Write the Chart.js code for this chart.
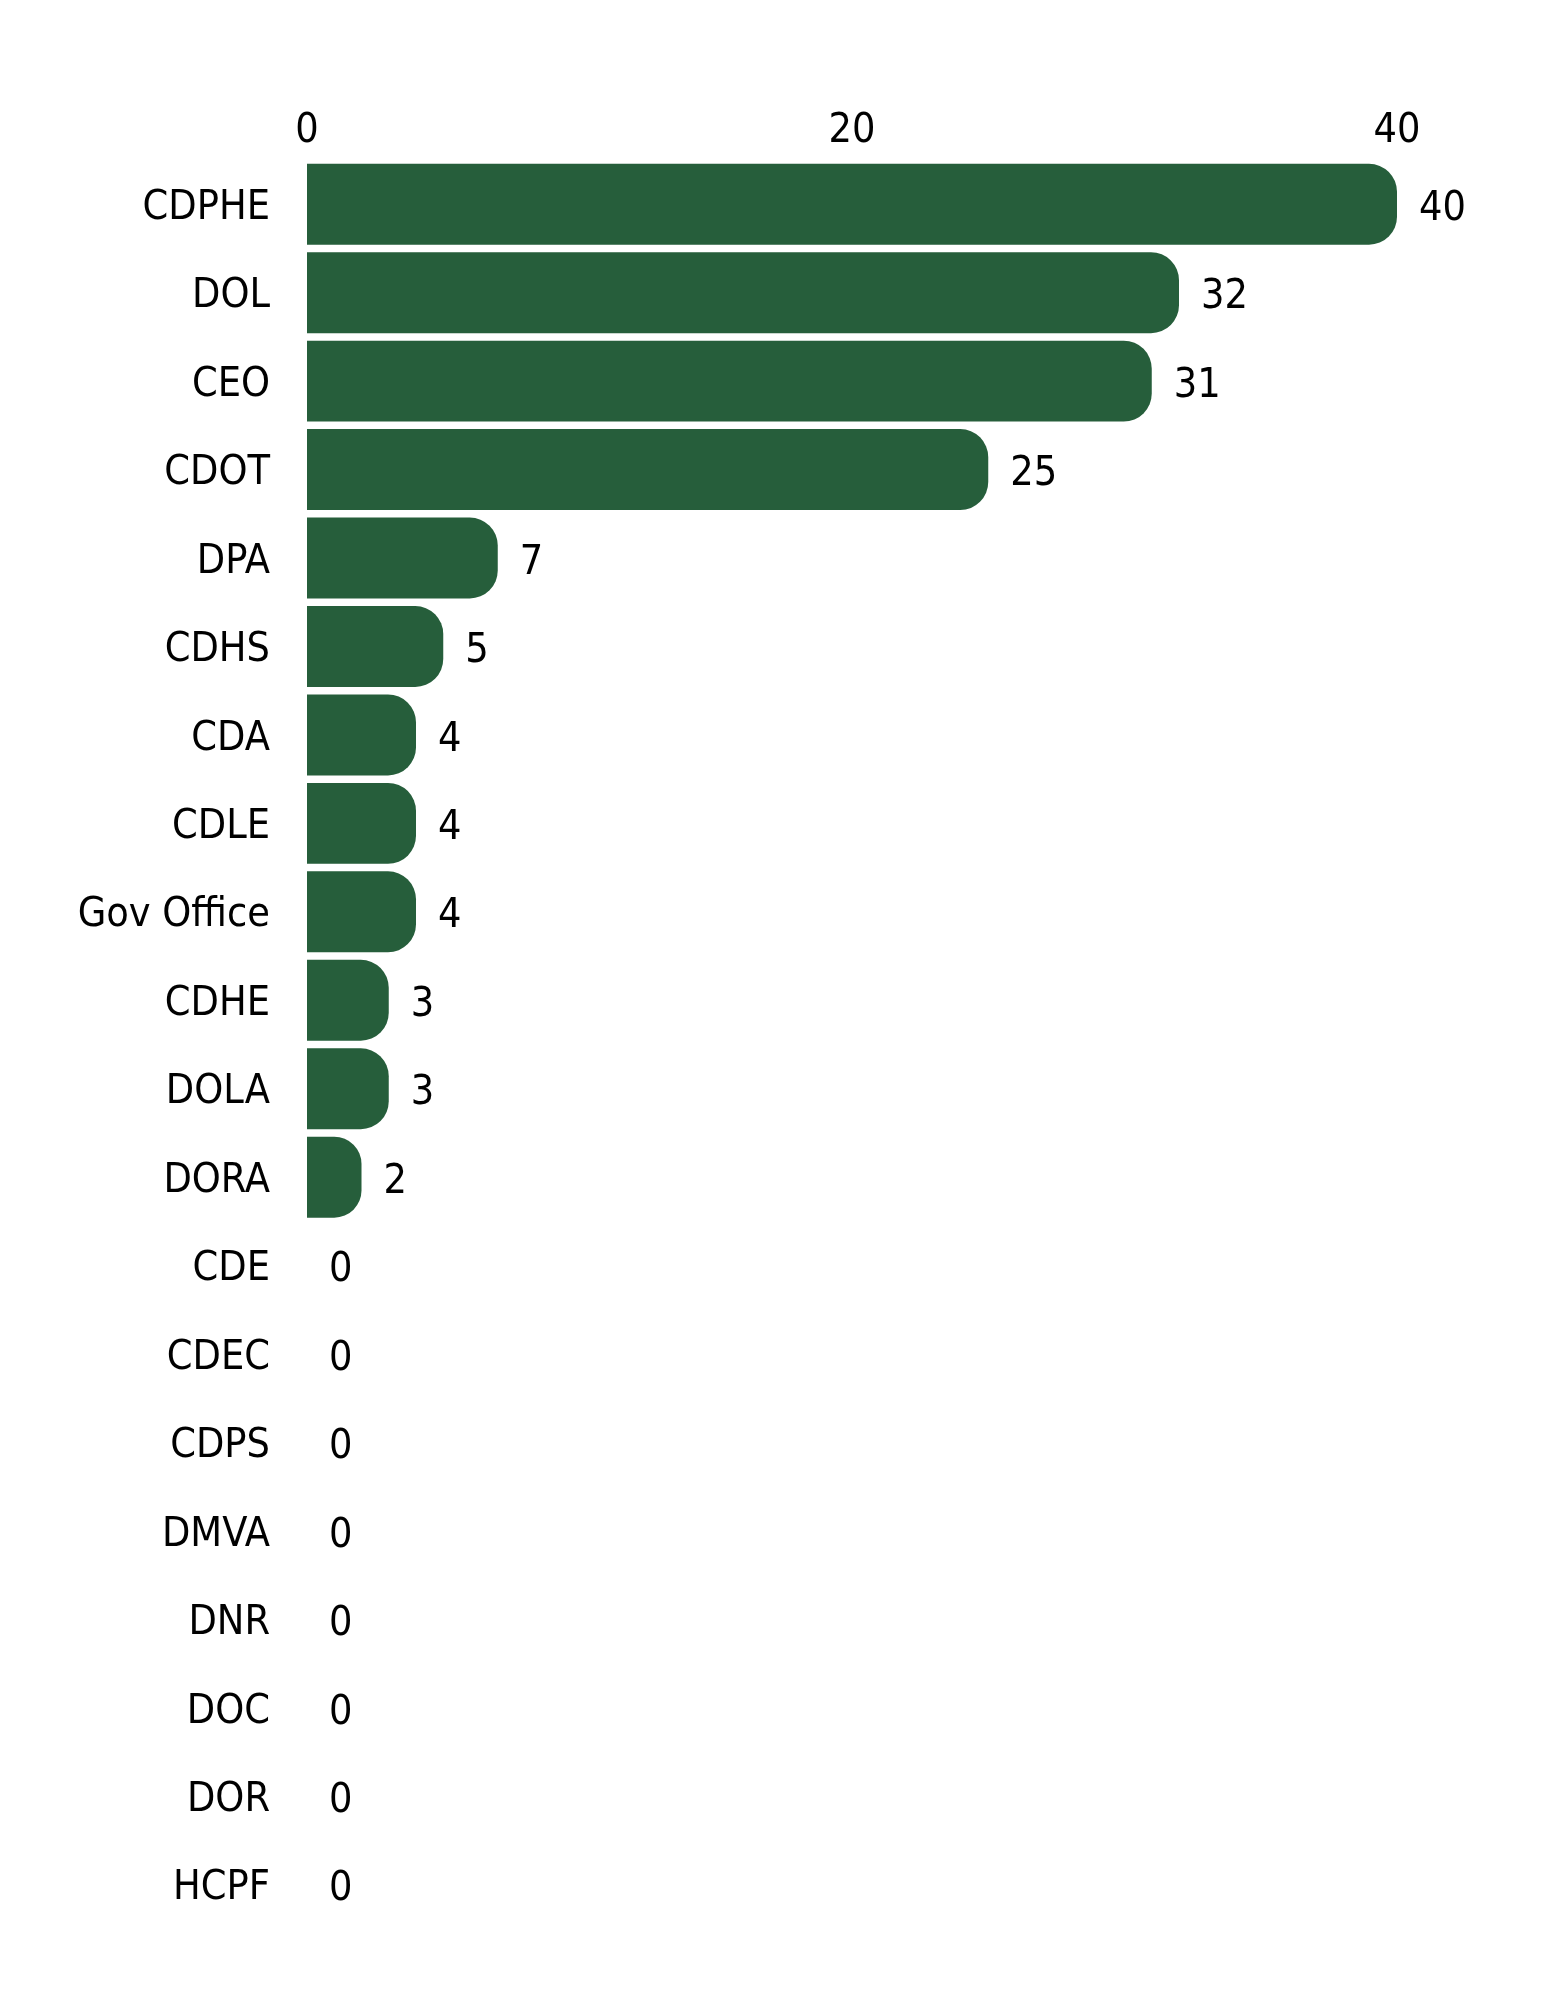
<!DOCTYPE html>
<html>
<head>
<meta charset="utf-8">
<script src="https://cdn.jsdelivr.net/npm/chart.js@4.4.1/dist/chart.umd.min.js"></script>
<style>
  html, body { margin: 0; padding: 0; background: #fff; }
  #wrap { width: 1545px; height: 2000px; }
</style>
</head>
<body>
<div id="wrap"><canvas id="agencyChart" width="1545" height="2000"></canvas></div>
<script>
const agencies = ['CDPHE', 'DOL', 'CEO', 'CDOT', 'DPA', 'CDHS', 'CDA', 'CDLE', 'Gov Office', 'CDHE',
  'DOLA', 'DORA', 'CDE', 'CDEC', 'CDPS', 'DMVA', 'DNR', 'DOC', 'DOR', 'HCPF'];
const counts = [40, 32, 31, 25, 7, 5, 4, 4, 4, 3, 3, 2, 0, 0, 0, 0, 0, 0, 0, 0];
const xTicks = [0, 20, 40];

const FONT = "'DejaVu Sans Condensed', 'DejaVu Sans', sans-serif";
const FONT_SIZE = 41;
const barGreen = '#265e3b';

// value text just past the end of each bar
const valueLabels = {
  id: 'valueLabels',
  afterDatasetsDraw(chart) {
    const c = chart.ctx;
    const meta = chart.getDatasetMeta(0);
    c.save();
    c.font = FONT_SIZE + 'px ' + FONT;
    c.fillStyle = '#000';
    c.textAlign = 'left';
    c.textBaseline = 'middle';
    meta.data.forEach((bar, i) => {
      c.fillText(String(counts[i]), bar.x + 22, bar.y + 5);
    });
    c.restore();
  }
};

new Chart(document.getElementById('agencyChart').getContext('2d'), {
  type: 'bar',
  data: {
    labels: agencies,
    datasets: [{
      data: counts,
      backgroundColor: barGreen,
      borderWidth: 0,
      borderRadius: 28,
      borderSkipped: 'start',
      categoryPercentage: 1,
      barPercentage: 0.915
    }]
  },
  options: {
    indexAxis: 'y',
    responsive: false,
    devicePixelRatio: 1,
    animation: false,
    layout: { padding: { top: 0, right: 148, bottom: 71, left: 0 } },
    plugins: {
      legend: { display: false },
      tooltip: { enabled: false }
    },
    scales: {
      x: {
        position: 'top',
        min: 0,
        max: 40,
        afterBuildTicks(axis) { axis.ticks = xTicks.map(v => ({ value: v })); },
        afterFit(axis) { axis.height = 160; },
        grid: { display: false, drawTicks: false },
        border: { display: false },
        ticks: { color: '#000', padding: 4, maxRotation: 0, font: { family: FONT, size: FONT_SIZE } }
      },
      y: {
        afterFit(axis) { axis.width = 307; },
        grid: { display: false, drawTicks: false },
        border: { display: false },
        ticks: { color: '#000', padding: 37, labelOffset: 4, font: { family: FONT, size: FONT_SIZE } }
      }
    }
  },
  plugins: [valueLabels]
});
</script>
</body>
</html>
